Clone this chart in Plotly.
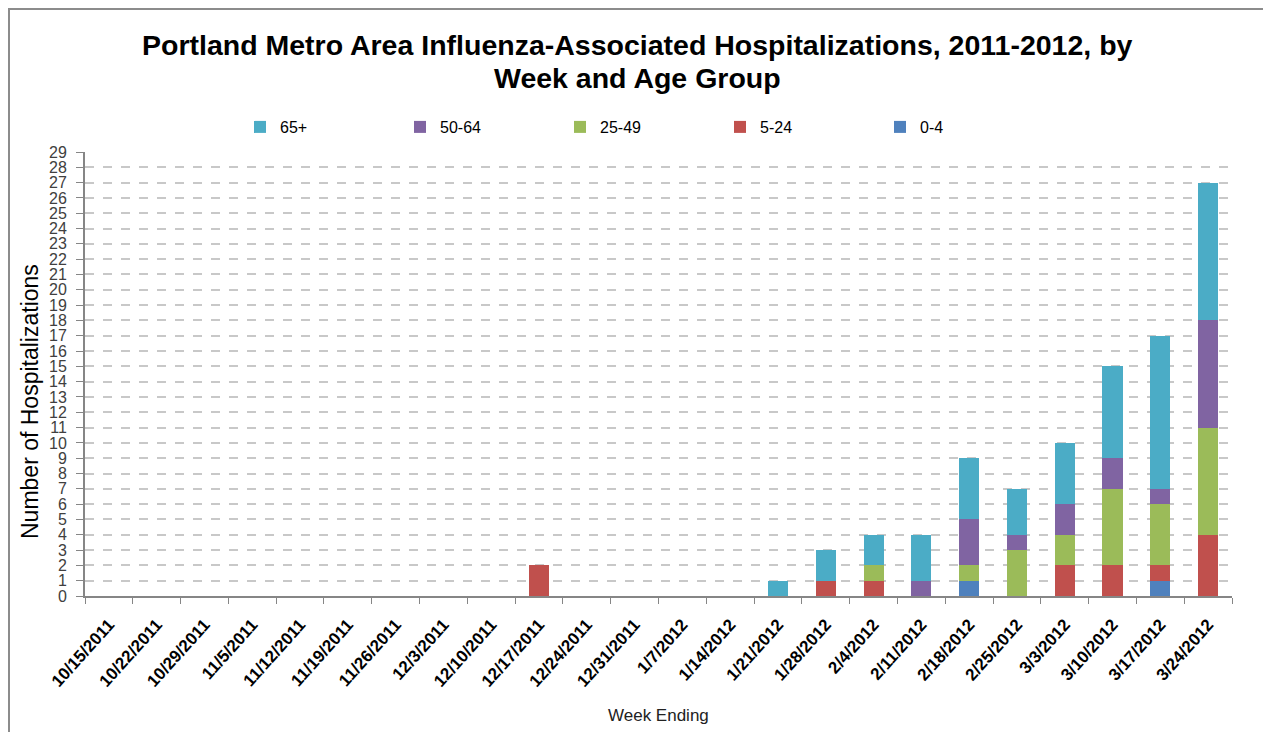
import plotly.graph_objects as go

weeks = ["10/15/2011", "10/22/2011", "10/29/2011", "11/5/2011", "11/12/2011", "11/19/2011",
         "11/26/2011", "12/3/2011", "12/10/2011", "12/17/2011", "12/24/2011", "12/31/2011",
         "1/7/2012", "1/14/2012", "1/21/2012", "1/28/2012", "2/4/2012", "2/11/2012",
         "2/18/2012", "2/25/2012", "3/3/2012", "3/10/2012", "3/17/2012", "3/24/2012"]

age_0_4 = [0, 0, 0, 0, 0, 0, 0, 0, 0, 0, 0, 0, 0, 0, 0, 0, 0, 0, 1, 0, 0, 0, 1, 0]
age_5_24 = [0, 0, 0, 0, 0, 0, 0, 0, 0, 2, 0, 0, 0, 0, 0, 1, 1, 0, 0, 0, 2, 2, 1, 4]
age_25_49 = [0, 0, 0, 0, 0, 0, 0, 0, 0, 0, 0, 0, 0, 0, 0, 0, 1, 0, 1, 3, 2, 5, 4, 7]
age_50_64 = [0, 0, 0, 0, 0, 0, 0, 0, 0, 0, 0, 0, 0, 0, 0, 0, 0, 1, 3, 1, 2, 2, 1, 7]
age_65_up = [0, 0, 0, 0, 0, 0, 0, 0, 0, 0, 0, 0, 0, 0, 1, 2, 2, 3, 4, 3, 4, 6, 10, 9]

series = [
    ("0-4", age_0_4, "#4F81BD"),
    ("5-24", age_5_24, "#C0504D"),
    ("25-49", age_25_49, "#9BBB59"),
    ("50-64", age_50_64, "#8064A2"),
    ("65+", age_65_up, "#4BACC6"),
]

fig = go.Figure()
for name, vals, col in series:
    fig.add_trace(go.Bar(x=weeks, y=vals, name=name, marker_color=col, marker_line_width=0))

# page has an 8px body margin, so everything is laid out 8px up/left
OFF = 8
W, H = 1271 - OFF, 732 - OFF
L, T = 85 - OFF, 152 - OFF
R = W - (1232 - OFF)
B = H - (596 - OFF)
pw, ph = W - L - R, H - T - B
px = lambda p: (p - OFF - L) / pw      # page pixel x -> paper
py = lambda p: (H - B - (p - OFF)) / ph  # page pixel y -> paper

fig.update_layout(
    width=W, height=H,
    barmode="stack", bargap=0.58,
    paper_bgcolor="white", plot_bgcolor="white",
    margin=dict(l=L, r=R, t=T, b=B, autoexpand=False),
    font=dict(family="Liberation Sans, Arial", color="#000000"),
    legend=dict(
        orientation="h", traceorder="reversed",
        x=px(240), xanchor="left", y=py(127), yanchor="middle",
        entrywidth=115, entrywidthmode="pixels",
        font=dict(size=16, color="#000000"),
    ),
    xaxis=dict(
        type="category", automargin=False,
        tickangle=-48,
        tickfont=dict(size=17, color="#000000"),
        ticks="outside", ticklen=6, tickcolor="#868686", tickson="boundaries",
        ticklabelstandoff=10,
        showline=True, linecolor="#868686", linewidth=2,
    ),
    yaxis=dict(
        automargin=False,
        range=[0, 29], dtick=1, tick0=0,
        tickfont=dict(size=16, family="Liberation Sans Narrow, Liberation Sans", color="#404040"),
        ticks="outside", ticklen=7, tickcolor="#868686", ticklabelstandoff=6,
        showline=True, linecolor="#868686", linewidth=2,
        showgrid=True, gridcolor="#C8C8C8", gridwidth=1.5, griddash="dash",
        zeroline=False,
    ),
)

fig.update_xaxes(ticktext=["<b>" + w + "</b>" for w in weeks], tickvals=weeks)

# title lines, axis titles
fig.add_annotation(text="<b>Portland Metro Area Influenza-Associated Hospitalizations, 2011-2012, by</b>",
                   xref="paper", yref="paper", x=px(637), y=py(45), showarrow=False,
                   xanchor="center", yanchor="middle", font=dict(size=28.5, color="#000000"))
fig.add_annotation(text="<b>Week and Age Group</b>",
                   xref="paper", yref="paper", x=px(637), y=py(78), showarrow=False,
                   xanchor="center", yanchor="middle", font=dict(size=28.5, color="#000000"))
fig.add_annotation(text="Number of Hospitalizations", textangle=-90,
                   xref="paper", yref="paper", x=px(30), y=py(402), showarrow=False,
                   xanchor="center", yanchor="middle", font=dict(size=23, color="#000000"))
fig.add_annotation(text="Week Ending",
                   xref="paper", yref="paper", x=px(658), y=py(715), showarrow=False,
                   xanchor="center", yanchor="middle", font=dict(size=17, color="#222222"))

# outer frame (top and left edge visible in the original)
fig.add_shape(type="line", xref="paper", yref="paper",
              x0=px(OFF), x1=px(1271), y0=py(OFF + 1), y1=py(OFF + 1),
              line=dict(color="#8C8C8C", width=2))
fig.add_shape(type="line", xref="paper", yref="paper",
              x0=px(OFF + 1), x1=px(OFF + 1), y0=py(OFF), y1=py(732),
              line=dict(color="#8C8C8C", width=2))

fig.write_html("out.html")
